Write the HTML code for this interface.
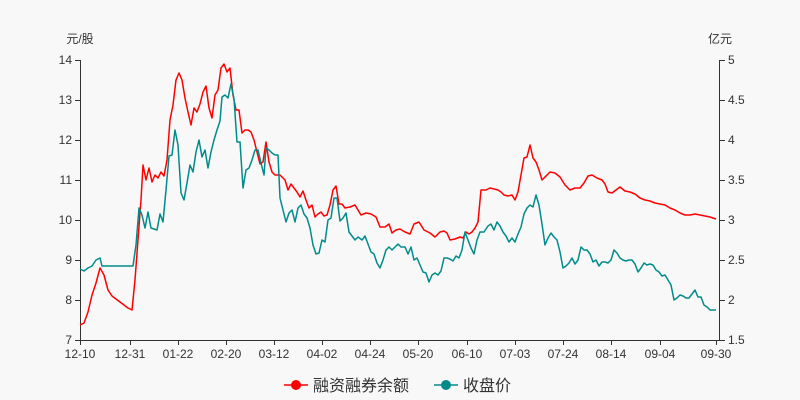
<!DOCTYPE html>
<html><head><meta charset="utf-8"><style>
body{margin:0;background:#f8f8f8;}
svg{display:block;font-family:"Liberation Sans","Noto Sans CJK SC",sans-serif;}
</style></head><body>
<svg width="800" height="400" viewBox="0 0 800 400">
<rect width="800" height="400" fill="#f8f8f8"/>
<g stroke="#333" stroke-width="1" fill="none">
<line x1="80.5" y1="60" x2="80.5" y2="340"/>
<line x1="719.5" y1="60" x2="719.5" y2="340"/>
<line x1="80" y1="340.5" x2="720" y2="340.5"/>
<path d="M75 60.5h5M75 100.5h5M75 140.5h5M75 180.5h5M75 220.5h5M75 260.5h5M75 300.5h5M75 340.5h5"/>
<path d="M720 60.5h5M720 100.5h5M720 140.5h5M720 180.5h5M720 220.5h5M720 260.5h5M720 300.5h5M720 340.5h5"/>
<path d="M80.5 340v5M130.5 340v5M178.5 340v5M226.5 340v5M274.5 340v5M322.5 340v5M370.5 340v5M418.5 340v5M467.5 340v5M515.5 340v5M563.5 340v5M611.5 340v5M660.5 340v5M716.5 340v5"/>
</g>
<g font-size="12" fill="#333">
<g text-anchor="end">
<text x="72" y="64">14</text><text x="72" y="104">13</text><text x="72" y="144">12</text><text x="72" y="184">11</text><text x="72" y="224">10</text><text x="72" y="264">9</text><text x="72" y="304">8</text><text x="72" y="344">7</text>
</g>
<g text-anchor="start">
<text x="728" y="64">5</text><text x="728" y="104">4.5</text><text x="728" y="144">4</text><text x="728" y="184">3.5</text><text x="728" y="224">3</text><text x="728" y="264">2.5</text><text x="728" y="304">2</text><text x="728" y="344">1.5</text>
</g>
<g text-anchor="middle">
<text x="80" y="358">12-10</text><text x="130" y="358">12-31</text><text x="178" y="358">01-22</text><text x="226" y="358">02-20</text><text x="274" y="358">03-12</text><text x="322" y="358">04-02</text><text x="370" y="358">04-24</text><text x="418" y="358">05-20</text><text x="467" y="358">06-10</text><text x="515" y="358">07-03</text><text x="563" y="358">07-24</text><text x="611" y="358">08-14</text><text x="660" y="358">09-04</text><text x="716" y="358">09-30</text>
</g>
<text x="80" y="43" text-anchor="middle">元/股</text>
<text x="720" y="43" text-anchor="middle">亿元</text>
</g>
<polyline fill="none" stroke="#ff0000" stroke-width="1.5" stroke-linejoin="round" points="80,325 84,323 88,312 92,295 96,283 100,268 104,275 108,290 112,296 120,302 128,308 132,310 135,280 138,240 141,200 143,165 146,180 149,168 152,182 155,175 158,178 161,172 164,176 167,160 170,120 173,105 176,80 179,73 182,80 185,98 188,112 191,125 194,108 197,112 200,104 203,92 206,86 209,108 212,118 215,95 218,90 221,68 224,64 227,72 230,68 233,95 236,110 239,110 242,133 245,130 248,130 251,132 254,140 257,152 260,164 263,162 266,142 269,162 272,172 275,175 280,175 285,180 288,190 291,184 294,188 297,192 300,197 303,191 306,200 309,208 312,205 315,217 318,214 321,212 324,216 327,215 330,205 333,190 336,186 339,204 342,204 345,208 350,207 355,205 358,210 361,215 366,213 371,214 376,217 380,227 385,227 389,224 392,233 396,230 400,229 405,232 410,234 414,224 419,222 424,230 430,233 435,237 440,232 444,231 447,233 450,240 455,239 460,237 463,238 466,232 469,234 472,232 475,228 478,222 481,190 486,190 490,188 494,189 498,190 501,192 504,195 508,196 512,195 515,200 518,192 521,175 524,158 527,157 530,145 533,158 536,162 539,170 542,180 546,176 550,172 555,173 560,177 565,185 570,190 575,188 580,188 584,183 588,176 592,175 597,178 602,180 605,184 608,192 612,193 616,190 620,187 625,191 630,192 635,194 640,198 645,200 650,201 655,203 660,204 665,205 670,208 675,210 680,213 685,215 690,215 695,214 700,215 705,216 710,217 716,219"/>
<polyline fill="none" stroke="#008b8b" stroke-width="1.5" stroke-linejoin="round" points="80,269 84,271 88,268 92,266 96,260 100,258 102,266 110,266 120,266 130,266 133,266 136,245 139,208 142,215 145,228 148,212 151,228 154,229 157,230 160,214 163,222 166,190 169,156 172,155 175,130 178,145 181,193 184,200 187,183 190,165 193,172 196,152 199,140 202,157 205,150 208,168 211,152 214,140 217,130 220,121 222,97 225,95 228,98 231,84 234,99 237,142 240,142 243,188 246,170 249,168 252,160 255,150 258,150 261,163 264,175 266,148 269,150 272,153 275,155 278,155 280,198 283,210 286,222 289,213 292,210 295,222 298,208 301,205 304,214 307,218 310,228 313,245 316,254 319,253 322,240 325,242 328,220 331,218 334,198 337,198 340,221 343,218 346,213 349,232 352,236 355,240 358,237 362,240 365,236 368,244 371,252 374,254 377,263 380,268 383,260 386,250 389,247 392,250 395,247 398,244 401,247 405,247 408,254 411,247 414,260 417,258 420,265 423,272 426,273 429,282 432,275 435,273 438,275 441,271 444,258 447,258 450,259 453,261 456,256 459,258 462,250 465,232 468,240 471,248 474,254 477,240 480,232 484,232 488,226 491,224 494,230 497,222 500,226 503,232 506,236 509,242 512,238 515,242 518,234 521,227 524,214 527,208 530,205 533,207 536,195 539,205 542,224 545,245 548,238 551,233 554,237 557,240 560,252 563,268 566,266 569,263 572,258 575,264 578,260 581,247 584,250 587,250 590,254 593,262 596,260 599,266 602,262 605,262 608,263 611,260 614,250 617,253 620,258 623,260 626,261 629,260 632,260 635,264 638,272 641,268 644,263 647,265 650,264 653,265 656,270 659,272 662,276 665,275 668,280 671,285 674,300 677,298 680,295 683,296 686,298 689,298 692,294 695,290 698,297 701,297 704,305 707,307 710,310 713,310 716,310"/>
<g font-size="16" fill="#333">
<line x1="284" y1="385" x2="308" y2="385" stroke="#ff0000" stroke-width="1.5"/>
<circle cx="296" cy="385" r="5" fill="#ff0000"/>
<text x="313" y="391">融资融券余额</text>
<line x1="434" y1="385" x2="458" y2="385" stroke="#008b8b" stroke-width="1.5"/>
<circle cx="446" cy="385" r="5" fill="#008b8b"/>
<text x="463" y="391">收盘价</text>
</g>
</svg>
</body></html>
